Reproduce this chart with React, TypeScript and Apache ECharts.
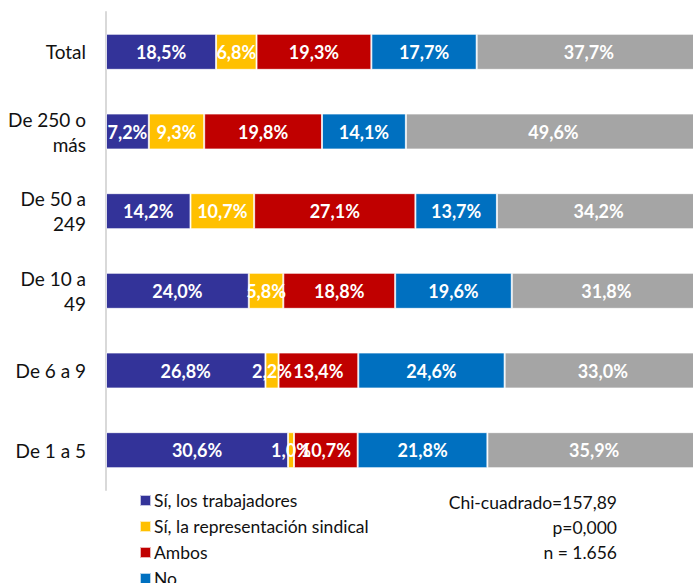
import React, { useEffect, useRef } from "react";
import * as echarts from "echarts";

const categories = ["Total", "De 250 o\nmás", "De 50 a\n249", "De 10 a\n49", "De 6 a 9", "De 1 a 5"];
const seriesNames = ["Sí, los trabajadores", "Sí, la representación sindical", "Ambos", "No", "NS/NC"];
const trabajadores = [18.5, 7.2, 14.2, 24.0, 26.8, 30.6];
const representacion = [6.8, 9.3, 10.7, 5.8, 2.2, 1.0];
const ambos = [19.3, 19.8, 27.1, 18.8, 13.4, 10.7];
const no = [17.7, 14.1, 13.7, 19.6, 24.6, 21.8];
const nsnc = [37.7, 49.6, 34.2, 31.8, 33.0, 35.9];
const statsLines = ["Chi-cuadrado=157,89", "p=0,000", "n = 1.656"];
const colors = ["#333399", "#FFC000", "#C00000", "#0070C0", "#A5A5A5"];

const FONT = "Lato, 'Open Sans', sans-serif";

export default function App() {
  const ref = useRef<HTMLDivElement>(null);
  useEffect(() => {
    if (!ref.current) return;
    const chart = echarts.init(ref.current, undefined, { renderer: "svg" });
    const values = [trabajadores, representacion, ambos, no, nsnc];
    chart.setOption({
      animation: false,
      textStyle: { fontFamily: FONT },
      grid: { left: 106, right: 0, top: 12, bottom: 170, containLabel: false },
      xAxis: { type: "value", min: 0, max: 100, show: false, splitLine: { show: false } },
      yAxis: {
        type: "category",
        inverse: true,
        data: categories,
        axisLine: { show: true, lineStyle: { color: "#D9D9D9", width: 2 } },
        axisTick: { show: false },
        axisLabel: { color: "#111", fontSize: 19, fontFamily: FONT, margin: 20, lineHeight: 25, align: "right" },
      },
      legend: {
        orient: "vertical",
        left: 134,
        top: 486.5,
        itemWidth: 11,
        itemHeight: 11,
        itemGap: 8,
        icon: "rect",
        selectedMode: false,
        data: seriesNames,
        textStyle: { fontSize: 17.5, color: "#111", fontFamily: FONT, lineHeight: 17, padding: [0, 0, 0, -2] },
      },
      graphic: statsLines.map((t, i) => ({
        type: "text",
        right: 84,
        top: 493 + i * 25.3,
        style: { text: t, fontSize: 17.5, fill: "#111", fontFamily: FONT, textAlign: "right" },
      })),
      series: seriesNames.map((name, i) => ({
        name,
        type: "bar",
        stack: "total",
        barWidth: 36,
        data: values[i],
        itemStyle: { color: colors[i], borderColor: "rgba(255,255,255,0.7)", borderWidth: 1 },
        label: {
          show: true,
          position: "inside",
          color: "#fff",
          fontWeight: "bold",
          fontSize: 18,
          fontFamily: FONT,
          formatter: (p: any) => p.value.toFixed(1).replace(".", ",") + "%",
        },
      })),
    });
    return () => chart.dispose();
  }, []);
  return (
    <div style={{ position: "absolute", left: 0, top: 0, width: 693, height: 583, overflow: "hidden" }}>
      <div ref={ref} style={{ width: 701, height: 660 }} />
    </div>
  );
}
